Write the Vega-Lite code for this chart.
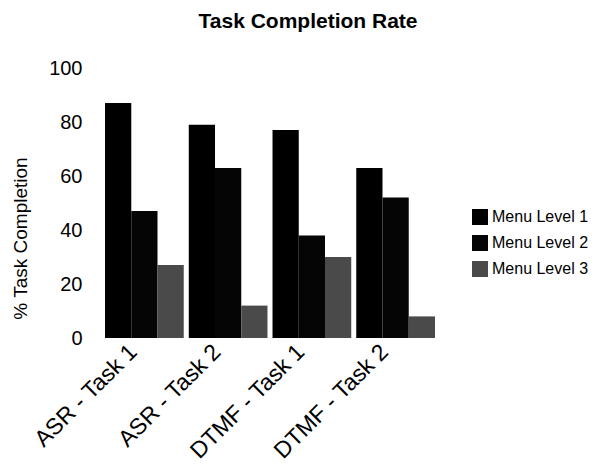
{
  "$schema": "https://vega.github.io/schema/vega-lite/v6.json",
  "autosize": {"type": "none"},
  "width": 340,
  "height": 270,
  "padding": {"left": 100, "top": 68, "right": 166, "bottom": 128},
  "background": "white",
  "title": {
    "text": "Task Completion Rate",
    "font": "Liberation Sans",
    "fontSize": 21,
    "fontWeight": "bold",
    "color": "black",
    "anchor": "middle",
    "dx": 38,
    "offset": 26
  },
  "data": {
    "values": [
      {"task": "ASR - Task 1", "level": "Menu Level 1", "pct": 87},
      {"task": "ASR - Task 1", "level": "Menu Level 2", "pct": 47},
      {"task": "ASR - Task 1", "level": "Menu Level 3", "pct": 27},
      {"task": "ASR - Task 2", "level": "Menu Level 1", "pct": 79},
      {"task": "ASR - Task 2", "level": "Menu Level 2", "pct": 63},
      {"task": "ASR - Task 2", "level": "Menu Level 3", "pct": 12},
      {"task": "DTMF - Task 1", "level": "Menu Level 1", "pct": 77},
      {"task": "DTMF - Task 1", "level": "Menu Level 2", "pct": 38},
      {"task": "DTMF - Task 1", "level": "Menu Level 3", "pct": 30},
      {"task": "DTMF - Task 2", "level": "Menu Level 1", "pct": 63},
      {"task": "DTMF - Task 2", "level": "Menu Level 2", "pct": 52},
      {"task": "DTMF - Task 2", "level": "Menu Level 3", "pct": 8}
    ]
  },
  "mark": {"type": "bar"},
  "encoding": {
    "x": {
      "field": "task",
      "type": "nominal",
      "sort": null,
      "scale": {"paddingInner": 0.06, "paddingOuter": 0.06},
      "axis": {
        "title": null,
        "labelAngle": -45,
        "labelAlign": "right",
        "labelBaseline": "middle",
        "labelFont": "Liberation Sans",
        "labelFontSize": 23,
        "labelColor": "black",
        "labelPadding": 10,
        "labelOffset": -11,
        "domain": false,
        "ticks": false
      }
    },
    "xOffset": {"field": "level", "type": "nominal", "sort": null},
    "y": {
      "field": "pct",
      "type": "quantitative",
      "scale": {"domain": [0, 100]},
      "axis": {
        "title": "% Task Completion",
        "titleFont": "Liberation Sans",
        "titleFontSize": 19,
        "titleFontWeight": "normal",
        "titleColor": "black",
        "titleAngle": -90,
        "titleX": -80,
        "titleY": 170,
        "titleAlign": "center",
        "titleBaseline": "middle",
        "values": [0, 20, 40, 60, 80, 100],
        "labelFont": "Liberation Sans",
        "labelFontSize": 20,
        "labelColor": "black",
        "labelPadding": 18,
        "domain": false,
        "ticks": false,
        "grid": false
      }
    },
    "color": {
      "field": "level",
      "type": "nominal",
      "sort": null,
      "scale": {
        "domain": ["Menu Level 1", "Menu Level 2", "Menu Level 3"],
        "range": ["#000000", "#050505", "#4a4a4a"]
      },
      "legend": {
        "title": null,
        "orient": "none",
        "legendX": 372,
        "legendY": 141,
        "symbolType": "square",
        "symbolSize": 256,
        "symbolStrokeWidth": 0,
        "labelFont": "Liberation Sans",
        "labelFontSize": 16,
        "labelColor": "black",
        "rowPadding": 10,
        "labelOffset": 4
      }
    }
  },
  "config": {"view": {"stroke": null}}
}
